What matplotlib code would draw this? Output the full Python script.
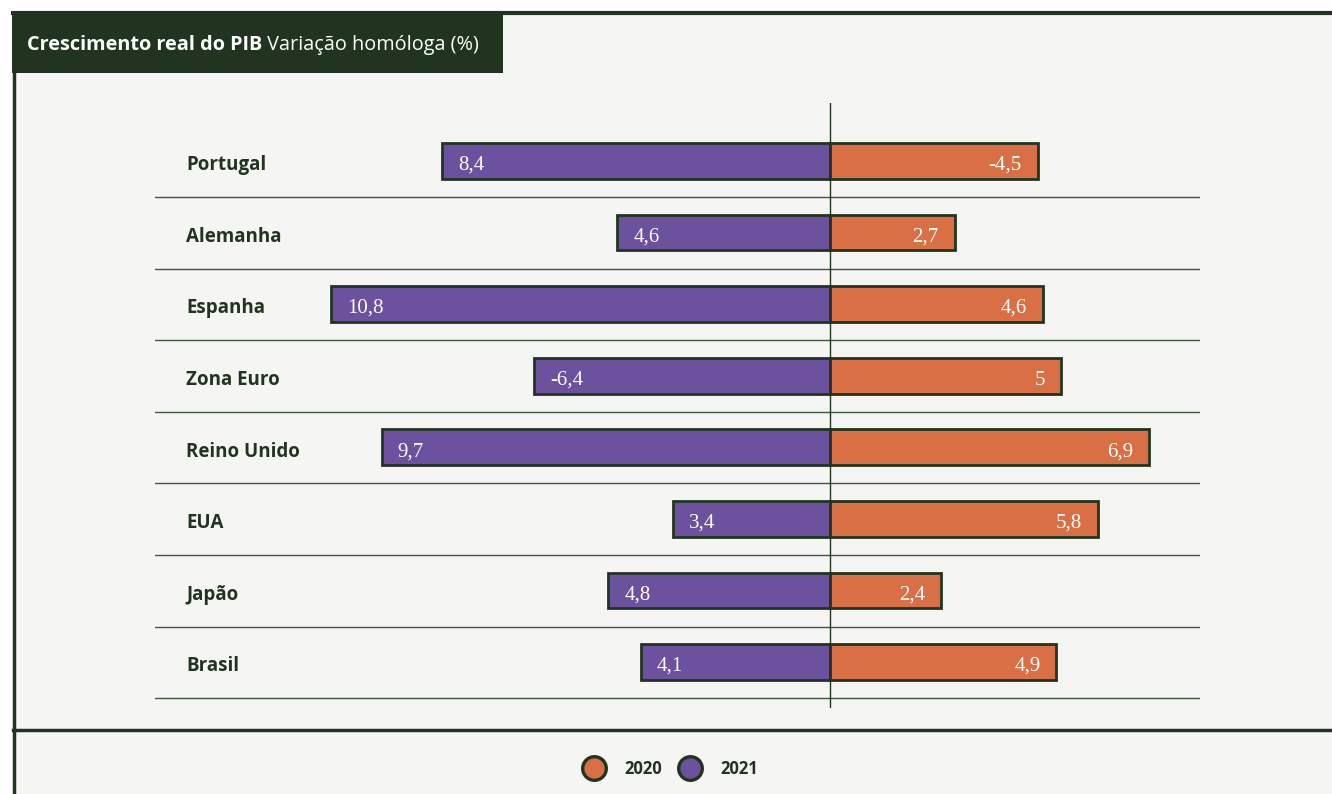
import matplotlib.pyplot as plt
from matplotlib.patches import Rectangle
from matplotlib.lines import Line2D

paises = ['Portugal', 'Alemanha', 'Espanha', 'Zona Euro', 'Reino Unido', 'EUA', 'Japão', 'Brasil']
v2020 = [-4.5, 2.7, 4.6, 5, 6.9, 5.8, 2.4, 4.9]
v2021 = [8.4, 4.6, 10.8, -6.4, 9.7, 3.4, 4.8, 4.1]

verde = '#213420'
roxo = '#6b519e'
laranja = '#d96f45'
fundo = '#f5f5f3'

W, H = 1332, 794
fig = plt.figure(figsize=(W / 100, H / 100), dpi=100)
fig.patch.set_facecolor('white')

def px(x, y, w, h):
    # retangulo em pixels (origem no topo)
    return (x / W, 1 - (y + h) / H), w / W, h / H

# painel de fundo e bordas
xy, w, h = px(13, 13, W - 13, H - 13)
fig.add_artist(Rectangle(xy, w, h, transform=fig.transFigure, facecolor=fundo, edgecolor='none', zorder=0))
fig.add_artist(Line2D([13 / W, 1], [1 - 13 / H] * 2, color=verde, lw=3, zorder=1))
fig.add_artist(Line2D([14 / W] * 2, [0, 1 - 13 / H], color=verde, lw=2.5, zorder=1))
fig.add_artist(Line2D([13 / W, 1], [1 - 730 / H] * 2, color=verde, lw=2.5, zorder=1))
xy, w, h = px(12, 12, 491, 61)
fig.add_artist(Rectangle(xy, w, h, transform=fig.transFigure, facecolor=verde, edgecolor='none', zorder=2))

t1 = fig.text(27 / W, 1 - 45 / H, 'Crescimento real do PIB', color='white', fontsize=14.3,
              fontweight='bold', family='Open Sans', va='center', zorder=3)
fig.add_artist(plt.Annotation(' Variação homóloga (%)', xy=(1, 0.5), xycoords=t1, va='center',
                              color='white', fontsize=14.3, fontweight='normal', family='Open Sans', zorder=3))

# eixo do grafico
ppu = 46.2
ax = fig.add_axes([155 / W, 1 - 708 / H, 1045 / W, 605 / H])
ax.set_facecolor('none')
ax.set_xlim(-(830 - 155) / ppu, (1200 - 830) / ppu)
ax.set_ylim(7.64, -0.81)
ax.axis('off')

y = list(range(len(paises)))
ax.barh(y, [-abs(v) for v in v2021], height=0.5, color=roxo, edgecolor=verde, lw=2, zorder=3)
ax.barh(y, [abs(v) for v in v2020], height=0.5, color=laranja, edgecolor=verde, lw=2, zorder=3)
ax.axvline(0, color=verde, lw=1, zorder=4)
for i in y:
    ax.axhline(i + 0.503, color='#3d5a3d', lw=1, zorder=1)

off = 16 / ppu
for i, nome in enumerate(paises):
    ax.text(-(830 - 186) / ppu, i + 0.06, nome, fontsize=13.5, fontweight='bold', family='Open Sans',
            color=verde, va='center', ha='left')
    a = v2021[i]
    ax.text(-abs(a) + off, i + 0.06, f'{a:g}'.replace('.', ','), color='white', fontsize=15,
            family='Liberation Serif', va='center', ha='left', zorder=5)
    b = v2020[i]
    ax.text(abs(b) - off, i + 0.06, f'{b:g}'.replace('.', ','), color='white', fontsize=15,
            family='Liberation Serif', va='center', ha='right', zorder=5)

handles = [Line2D([], [], marker='o', ls='none', markersize=17, markerfacecolor=c,
                  markeredgecolor=verde, markeredgewidth=2.4) for c in (laranja, roxo)]
fig.legend(handles, ['2020', '2021'], loc='center', bbox_to_anchor=(668 / W, 1 - 769 / H), ncol=2,
           frameon=False, handlelength=2.0, handletextpad=0.8, columnspacing=0.7,
           prop={'family': 'Open Sans', 'weight': 'bold', 'size': 12}, labelcolor=verde)

fig.savefig('out.png', dpi=100)
